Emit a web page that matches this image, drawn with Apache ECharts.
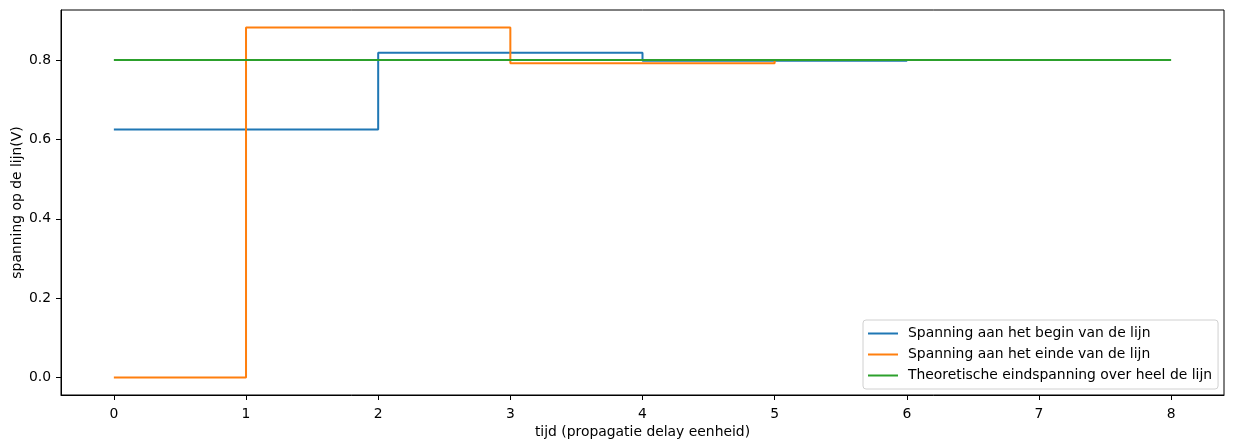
<!DOCTYPE html>
<html>
<head>
<meta charset="utf-8">
<script src="https://cdn.jsdelivr.net/npm/echarts@6/dist/echarts.min.js"></script>
<style>html,body{margin:0;padding:0;background:#fff}#c{width:1233px;height:448px}</style>
</head>
<body>
<div id="c"></div>
<script>
const seriesNames = ['Spanning aan het begin van de lijn', 'Spanning aan het einde van de lijn', 'Theoretische eindspanning over heel de lijn'];
const beginX = [0, 2, 4, 6];
const beginY = [0.625, 0.818, 0.798, 0.800];
const endX = [0, 1, 3, 5];
const endY = [0.0, 0.882, 0.792, 0.801];
const theoX = [0, 8];
const theoY = [0.8, 0.8];
const xTicks = [0, 1, 2, 3, 4, 5, 6, 7, 8];
const yTicks = [0.0, 0.2, 0.4, 0.6, 0.8];
const colors = ['#1f77b4', '#ff7f0e', '#2ca02c'];

function pairs(xs, ys) { return xs.map((x, i) => [x, ys[i]]); }

const font = 'DejaVu Sans';
const chart = echarts.init(document.getElementById('c'), null, {renderer: 'canvas'});
chart.setOption({
  animation: false,
  color: colors,
  grid: {left: 61, right: 9, top: 10, bottom: 53, outerBoundsMode: 'none', containLabel: false, show: true, borderColor: '#000', borderWidth: 1, backgroundColor: 'transparent'},
  legend: {
    orient: 'vertical', left: 863, top: 320,
    data: seriesNames,
    icon: 'rect', itemWidth: 30, itemHeight: 2, itemGap: 0,
    padding: [3, 6, 3, 5],
    borderColor: '#d0d0d0', borderWidth: 1, borderRadius: 3, backgroundColor: 'rgba(255,255,255,0.8)',
    textStyle: {fontFamily: font, fontSize: 13.9, color: '#000', lineHeight: 21, padding: [0, 0, 0, 5]}
  },
  xAxis: {
    type: 'value', min: -0.4, max: 8.4,
    name: 'tijd (propagatie delay eenheid)', nameLocation: 'middle', nameGap: 30, nameMoveOverlap: false,
    nameTextStyle: {fontFamily: font, fontSize: 13.9, color: '#000'},
    axisLine: {show: true, onZero: false, lineStyle: {color: '#000', width: 1}},
    axisTick: {show: true, length: 5, lineStyle: {color: '#000'}, customValues: xTicks},
    axisLabel: {fontFamily: font, fontSize: 13.9, color: '#000', margin: 12, customValues: xTicks, formatter: v => String(v)},
    splitLine: {show: false}
  },
  yAxis: {
    type: 'value', min: -0.044, max: 0.926,
    name: 'spanning op de lijn(V)', nameLocation: 'middle', nameGap: 37, nameMoveOverlap: false,
    nameTextStyle: {fontFamily: font, fontSize: 13.9, color: '#000'},
    axisLine: {show: true, onZero: false, lineStyle: {color: '#000', width: 1}},
    axisTick: {show: true, length: 5, lineStyle: {color: '#000'}, customValues: yTicks},
    axisLabel: {fontFamily: font, fontSize: 13.9, color: '#000', margin: 10, customValues: yTicks, formatter: v => v.toFixed(1)},
    splitLine: {show: false}
  },
  series: [
    {name: seriesNames[0], type: 'line', step: 'end', showSymbol: false, data: pairs(beginX, beginY), lineStyle: {width: 2, color: colors[0]}, itemStyle: {color: colors[0]}},
    {name: seriesNames[1], type: 'line', step: 'end', showSymbol: false, data: pairs(endX, endY), lineStyle: {width: 2, color: colors[1]}, itemStyle: {color: colors[1]}},
    {name: seriesNames[2], type: 'line', showSymbol: false, data: pairs(theoX, theoY), lineStyle: {width: 2, color: colors[2]}, itemStyle: {color: colors[2]}}
  ]
});
</script>
</body>
</html>
